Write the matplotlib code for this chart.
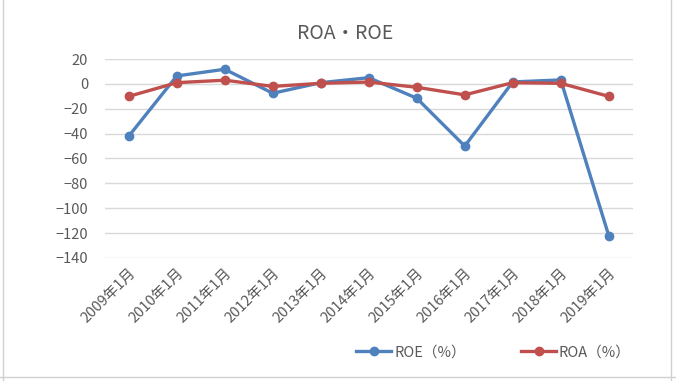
import numpy as np
from matplotlib import pyplot as plt
from matplotlib.lines import Line2D

plt.rcParams['font.family'] = ['Noto Sans CJK JP', 'DejaVu Sans']

# データ
periods = ['2009年1月', '2010年1月', '2011年1月', '2012年1月', '2013年1月', '2014年1月',
           '2015年1月', '2016年1月', '2017年1月', '2018年1月', '2019年1月']
roe = [-42, 6.4, 11.8, -7.5, 1.0, 5.0, -11.5, -50, 1.6, 3.2, -122]
roa = [-10, 1.0, 3.0, -2.0, 0.5, 1.5, -2.7, -8.8, 1.0, 0.5, -10]
y_ticks = [20, 0, -20, -40, -60, -80, -100, -120, -140]

blue = '#4F81BD'
red = '#C0504D'
grey = '#595959'

fig = plt.figure(figsize=(6.76, 3.81), dpi=100)
ax = fig.add_axes([0.155, 0.323, 0.781, 0.522])

x = np.arange(len(periods))
ax.plot(x, roe, color=blue, lw=2.4, marker='o', ms=6, label='ROE（%）', zorder=3)
ax.plot(x, roa, color=red, lw=2.4, marker='o', ms=6, label='ROA（%）', zorder=4)

ax.set_xlim(-0.5, len(periods) - 0.5)
ax.set_ylim(-140, 20)
ax.set_yticks(y_ticks)
ax.set_xticks(x)
ax.set_xticklabels(periods, rotation=45, ha='right', rotation_mode='anchor')
ax.tick_params(axis='both', length=0, colors=grey, labelsize=10.5)
ax.tick_params(axis='y', pad=12)
ax.tick_params(axis='x', pad=6)
ax.grid(axis='y', color='#D9D9D9', lw=1)
ax.set_axisbelow(True)
for s in ax.spines.values():
    s.set_visible(False)

fig.suptitle('ROA・ROE', x=0.51, y=0.94, fontsize=14, color=grey)

fig.legend(handles=[Line2D([], [], color=blue, lw=2.4, marker='o', ms=6),
                    Line2D([], [], color=red, lw=2.4, marker='o', ms=6)],
           labels=['ROE（%）', 'ROA（%）'], loc='center', bbox_to_anchor=(0.73, 0.075),
           ncol=2, frameon=False, fontsize=10.5, labelcolor=grey,
           columnspacing=3.8, handlelength=2.4, handletextpad=0.2)

# シートの枠線
fig.add_artist(Line2D([0.004, 0.004], [0, 1], color='#D0D0D0', lw=1))
fig.add_artist(Line2D([0.993, 0.993], [0, 1], color='#D0D0D0', lw=1))
fig.add_artist(Line2D([0, 1], [0.01, 0.01], color='#D0D0D0', lw=1))

fig.savefig('out.png', dpi=100)
